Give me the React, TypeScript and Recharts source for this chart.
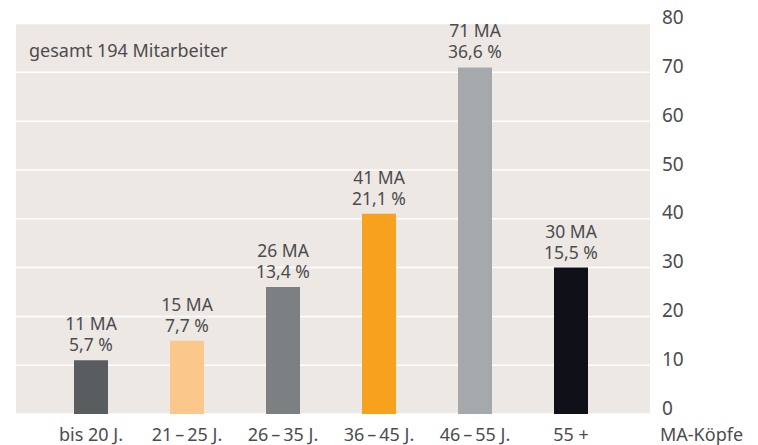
import { Bar, BarChart, CartesianGrid, Cell, LabelList, XAxis, YAxis } from "recharts";

const categories = ["bis 20 J.", "21\u2009–\u200925 J.", "26\u2009–\u200935 J.", "36\u2009–\u200945 J.", "46\u2009–\u200955 J.", "55 +"];
const headcount = [11, 15, 26, 41, 71, 30];
const percent = [5.7, 7.7, 13.4, 21.1, 36.6, 15.5];
const barColors = ["#5a5d60", "#fbc78a", "#7c8083", "#f7a11f", "#a5a9ac", "#0f1018"];
const yTicks = [0, 10, 20, 30, 40, 50, 60, 70, 80];

const data = categories.map((name, i) => ({ name, count: headcount[i], pct: percent[i] }));

const FONT = "'Noto Sans', sans-serif";
const TEXT = "#4b4c4e";

function YTick(props: any) {
  const { x, y, payload } = props;
  return (
    <text x={x} y={y - 6} dy="0.355em" textAnchor="start" fontFamily={FONT} fontSize={19} fill={TEXT}>
      {payload.value}
    </text>
  );
}

function XTick(props: any) {
  const { x, y, payload } = props;
  return (
    <text x={x} y={y + 21} textAnchor="middle" fontFamily={FONT} fontSize={18} fill={TEXT}>
      {payload.value}
    </text>
  );
}

// two-line label above each bar: head count and share
function BarLabel(props: any) {
  const { x, y, width, value, index } = props;
  const cx = x + width / 2;
  const pct = percent[index].toFixed(1).replace(".", ",");
  return (
    <text x={cx} y={y - 30} fontFamily={FONT} fontSize={17.5} fill={TEXT} textAnchor="middle">
      <tspan x={cx}>{value} MA</tspan>
      <tspan x={cx} dy={21}>{pct} %</tspan>
    </text>
  );
}

function App() {
  return (
    <div style={{ position: "relative", width: 758, height: 445 }}>
      <style>{"body{margin:0}"}</style>
      <BarChart width={758} height={445} data={data} margin={{ top: 23.5, right: 0, bottom: 0, left: 16 }}>
        <CartesianGrid vertical={false} fill="#ede8e4" fillOpacity={1} stroke="#ffffff" strokeWidth={1.5} />
        <XAxis
          dataKey="name"
          height={31}
          padding={{ left: 27, right: 31 }}
          axisLine={false}
          tickLine={false}
          tickMargin={0}
          tick={<XTick />}
          interval={0}
        />
        <YAxis
          orientation="right"
          width={108}
          domain={[0, 80]}
          ticks={yTicks}
          axisLine={false}
          tickLine={false}
          tickMargin={6}
          tick={<YTick />}
          label={{
            content: (p: any) => {
              const vb = p.viewBox;
              return (
                <text x={vb.x + 10} y={vb.y + vb.height + 27} fontFamily={FONT} fontSize={18} fill={TEXT}>
                  MA-Köpfe
                </text>
              );
            },
          }}
        />
        <Bar dataKey="count" barSize={34} isAnimationActive={false}>
          {data.map((d, i) => (
            <Cell key={d.name} fill={barColors[i]} />
          ))}
          <LabelList dataKey="count" content={<BarLabel />} />
        </Bar>
      </BarChart>
      <div
        style={{
          position: "absolute",
          left: 29,
          top: 39,
          fontFamily: FONT,
          fontSize: 18,
          lineHeight: "22px",
          color: TEXT,
          whiteSpace: "nowrap",
        }}
      >
        gesamt 194 Mitarbeiter
      </div>
    </div>
  );
}

export default App;
